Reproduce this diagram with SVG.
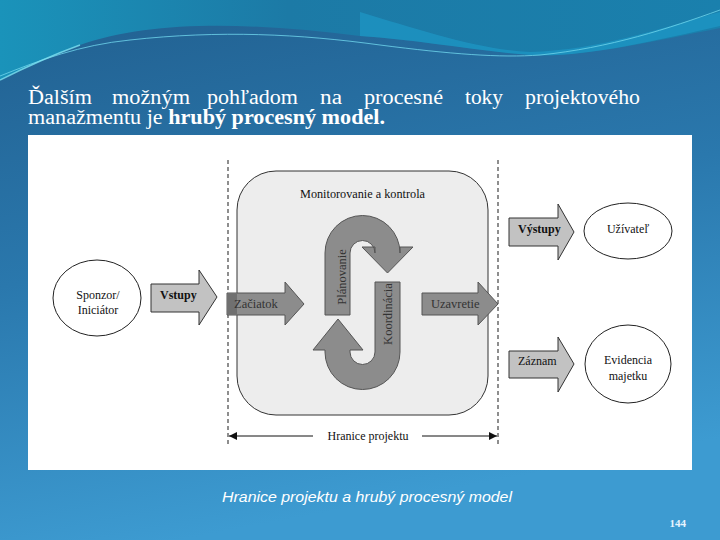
<svg xmlns="http://www.w3.org/2000/svg" width="720" height="540" viewBox="0 0 720 540">
<defs>
<linearGradient id="bg" x1="0" y1="0" x2="0.25" y2="1">
<stop offset="0" stop-color="#215f8f"/>
<stop offset="0.5" stop-color="#2a78ad"/>
<stop offset="1" stop-color="#3d9bd1"/>
</linearGradient>
<linearGradient id="sky" x1="0" y1="0" x2="1" y2="0">
<stop offset="0" stop-color="#1a93ba"/>
<stop offset="0.4" stop-color="#1c7aa6"/>
<stop offset="1" stop-color="#1a80ad"/>
</linearGradient>
<marker id="ah" viewBox="0 0 10 10" refX="10" refY="5" markerWidth="8" markerHeight="8" orient="auto-start-reverse" markerUnits="userSpaceOnUse">
<path d="M0,0 L10,5 L0,10 Z" fill="#111"/>
</marker>
<style>
.t{font-family:"Liberation Serif","Times New Roman",serif;fill:#111;font-size:12px}
.title{font-family:"Liberation Serif","Times New Roman",serif;fill:#fff;font-size:20px}
.light{fill:#c2c2c2;stroke:#333;stroke-width:1}
.dark{fill:#8c8c8c;stroke:#555;stroke-width:1}
.ell{fill:#fff;stroke:#222;stroke-width:1}
.dash{stroke:#444;stroke-width:1.2;stroke-dasharray:4 3;fill:none}
.in{fill:#333;font-size:12.5px}
</style>
</defs>
<rect width="720" height="540" fill="url(#bg)"/>
<path d="M0,0 H720 V28 C650,42 580,58 530,55 C470,50 420,40 360,36 C250,22 150,20 80,45 C50,56 20,70 0,80 Z" fill="url(#sky)"/>
<path d="M360,12 C420,30 480,50 530,52 C600,50 660,28 720,12 V26 C650,42 580,58 530,55 C470,50 420,40 360,36 Z" fill="#1e9ccb" opacity="0.6"/>
<path d="M0,76 C40,60 80,45 130,40 C220,30 300,34 380,45 C450,54 500,58 540,55 C610,48 670,28 720,10" stroke="#6fd6ec" stroke-width="1" fill="none" opacity="0.8"/>
<path d="M0,80 C20,70 50,56 80,45" stroke="#7fe3f3" stroke-width="1.5" fill="none" opacity="0.8"/>

<g id="title">
<text class="title" y="104"><tspan x="28" textLength="64" lengthAdjust="spacingAndGlyphs">Ďalším</tspan><tspan x="112" textLength="78" lengthAdjust="spacingAndGlyphs">možným</tspan><tspan x="207" textLength="91" lengthAdjust="spacingAndGlyphs">pohľadom</tspan><tspan x="320" textLength="22" lengthAdjust="spacingAndGlyphs">na</tspan><tspan x="364" textLength="79" lengthAdjust="spacingAndGlyphs">procesné</tspan><tspan x="465" textLength="38" lengthAdjust="spacingAndGlyphs">toky</tspan><tspan x="525" textLength="115" lengthAdjust="spacingAndGlyphs">projektového</tspan></text>
<text class="title" x="28" y="124" textLength="357" lengthAdjust="spacingAndGlyphs">manažmentu je <tspan font-weight="bold">hrubý procesný model.</tspan></text>
</g>

<rect x="28" y="135" width="664" height="335" fill="#fff"/>

<g id="boundary">
<line class="dash" x1="228" y1="160" x2="228" y2="447"/>
<line class="dash" x1="498" y1="160" x2="498" y2="447"/>
</g>

<g id="process-box">
<rect x="237" y="171" width="251" height="244" rx="39" ry="39" fill="#ededed" stroke="#333" stroke-width="1"/>
<text class="t" x="300" y="198" textLength="125" lengthAdjust="spacingAndGlyphs">Monitorovanie a kontrola</text>
</g>

<g id="planovanie">
<path class="dark" d="M325,315 V253 A37.5,37.5 0 0 1 400,253 V247 H413 L387.5,273 L362,247 H375 V253 A12.5,12.5 0 0 0 350,253 V315 Z"/>
<text class="t in" transform="translate(346,277) rotate(-90)" text-anchor="middle">Plánovanie</text>
</g>

<g id="koordinacia">
<path class="dark" d="M375,282 H400 V352 A37.5,37.5 0 0 1 325,352 V350 H313 L338,319 L363,350 H350 V352 A12.5,12.5 0 0 0 375,352 Z"/>
<text class="t in" transform="translate(392,314) rotate(-90)" text-anchor="middle">Koordinácia</text>
</g>

<g id="zaciatok">
<path class="dark" d="M227,293 H285 V282 L304,304 L285,325 V315 H227 Z"/>
<rect x="227.5" y="293.5" width="9.5" height="21" fill="#707070"/>
<text class="t in" x="234" y="308">Začiatok</text>
</g>

<g id="uzavretie">
<path class="dark" d="M422,293 H478 V282 L498,304 L478,325 V315 H422 Z"/>
<text class="t in" x="431" y="308">Uzavretie</text>
</g>

<g id="sponzor">
<ellipse class="ell" cx="97" cy="298" rx="44" ry="38"/>
<text class="t" x="98" y="299" text-anchor="middle">Sponzor/</text>
<text class="t" x="98" y="314" text-anchor="middle">Iniciátor</text>
</g>

<g id="vstupy">
<path class="light" d="M151,284 H199 V270 L217,297 L199,325 V312 H151 Z"/>
<text class="t" x="160" y="299" font-weight="bold">Vstupy</text>
</g>

<g id="vystupy">
<path class="light" d="M509,218 H558 V204 L574,232 L558,260 V246 H509 Z"/>
<text class="t" x="518" y="233" font-weight="bold">Výstupy</text>
</g>

<g id="uzivatel">
<ellipse class="ell" cx="628" cy="231" rx="44" ry="28"/>
<text class="t" x="628" y="233" text-anchor="middle">Užívateľ</text>
</g>

<g id="zaznam">
<path class="light" d="M509,351 H558 V337 L574,364 L558,392 V378 H509 Z"/>
<text class="t" x="518" y="365">Záznam</text>
</g>

<g id="evidencia">
<ellipse class="ell" cx="628" cy="364" rx="43" ry="39"/>
<text class="t" x="628" y="364" text-anchor="middle">Evidencia</text>
<text class="t" x="628" y="380" text-anchor="middle">majetku</text>
</g>

<g id="connectors">
<line x1="313" y1="436" x2="229" y2="436" stroke="#111" stroke-width="1" marker-end="url(#ah)"/>
<line x1="422" y1="436" x2="497" y2="436" stroke="#111" stroke-width="1" marker-end="url(#ah)"/>
</g>
<text class="t" x="368" y="440" text-anchor="middle">Hranice projektu</text>

<text x="222" y="502" font-family="Liberation Sans, Arial, sans-serif" font-style="italic" font-size="15" fill="#fff" textLength="290" lengthAdjust="spacingAndGlyphs">Hranice projektu a hrubý procesný model</text>
<text x="686" y="527" font-family="Liberation Serif, serif" font-weight="bold" font-size="11" fill="#e8f4ff" text-anchor="end">144</text>
</svg>
